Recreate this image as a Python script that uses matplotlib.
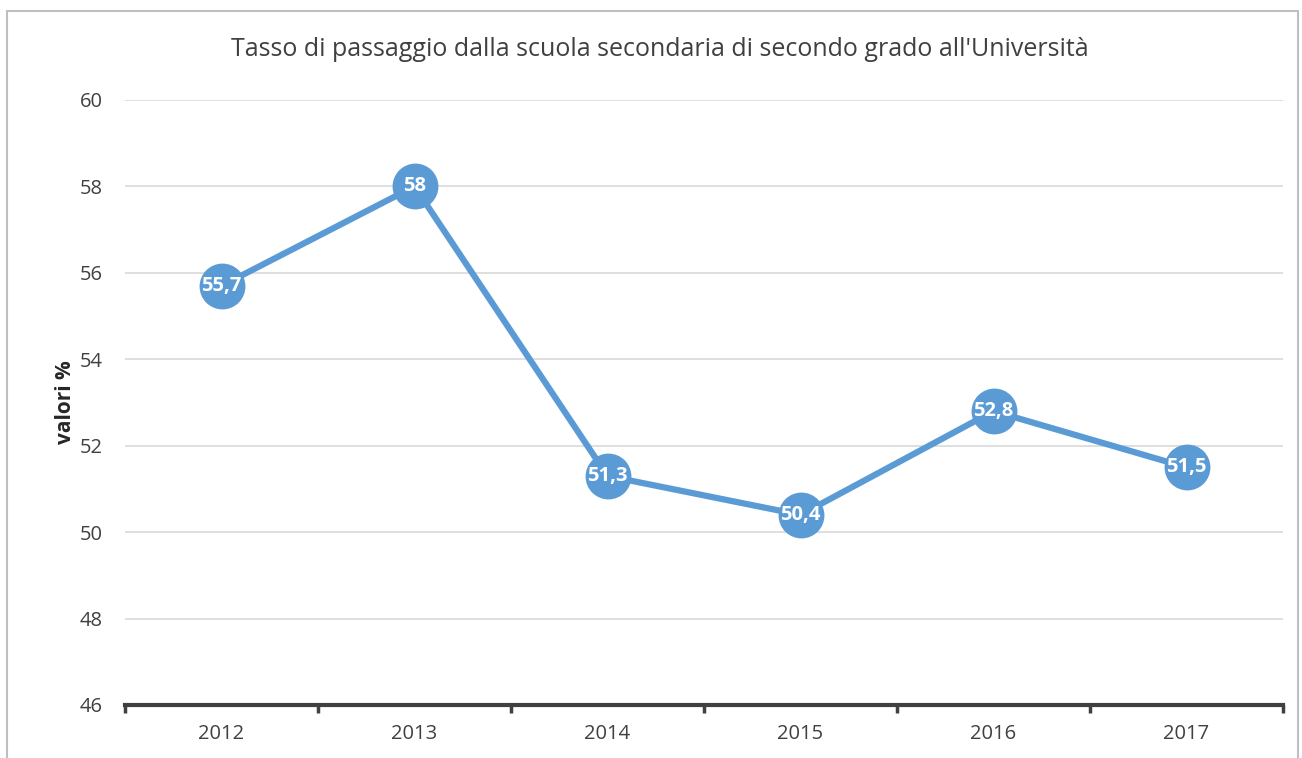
import matplotlib
matplotlib.use("Agg")
import matplotlib.pyplot as plt
from matplotlib.patches import Rectangle

years = ["2012", "2013", "2014", "2015", "2016", "2017"]
values = [55.7, 58.0, 51.3, 50.4, 52.8, 51.5]
labels = ["55,7", "58", "51,3", "50,4", "52,8", "51,5"]
yticks = [46, 48, 50, 52, 54, 56, 58, 60]

plt.rcParams['font.family'] = ['Open Sans', 'DejaVu Sans']

fig = plt.figure(figsize=(13.02, 7.58), dpi=100)
fig.patches.append(Rectangle((7/1302, -0.1), (1298-7)/1302, 1.1 - 11/758,
                             transform=fig.transFigure, fill=False,
                             edgecolor='#BFBFBF', linewidth=1.5))
ax = fig.add_axes([125/1302, 1-705/758, (1283-125)/1302, (705-100)/758])

x = list(range(len(years)))
blue = '#5B9BD5'
ax.plot(x, values, color=blue, linewidth=4.5, marker='o', markersize=32,
        markerfacecolor=blue, markeredgecolor=blue, zorder=3,
        solid_capstyle='round')
for xi, v, lab in zip(x, values, labels):
    ax.text(xi, v, lab, ha='center', va='center', color='white',
            fontsize=14.5, fontweight='bold', zorder=4)

ax.set_xlim(-0.5, len(years) - 0.5)
ax.set_ylim(46, 60)
ax.set_yticks(yticks)
ax.set_yticklabels([str(t) for t in yticks], fontsize=14.5, color='#404040')
ax.set_xticks(x)
ax.set_xticklabels(years, fontsize=14.5, color='#404040')
ax.tick_params(axis='y', length=0, pad=16)
ax.tick_params(axis='x', length=0, pad=14)
ax.set_xticks([-0.5 + i for i in range(len(years) + 1)], minor=True)
ax.tick_params(axis='x', which='minor', length=6, width=2.5, color='#404040',
               direction='out')

ax.grid(axis='y', color='#D9D9D9', linewidth=1.2)
ax.set_axisbelow(True)
for s in ['top', 'right', 'left']:
    ax.spines[s].set_visible(False)
ax.spines['bottom'].set_color('#404040')
ax.spines['bottom'].set_linewidth(3)

ax.set_ylabel('valori %', fontsize=15, fontweight='bold', color='#262626',
              labelpad=3)
fig.text(660/1302, 1-50/758, "Tasso di passaggio dalla scuola secondaria di secondo grado all'Università",
         ha='center', va='center', fontsize=18, color='#404040')

fig.savefig('out.png', dpi=100)
